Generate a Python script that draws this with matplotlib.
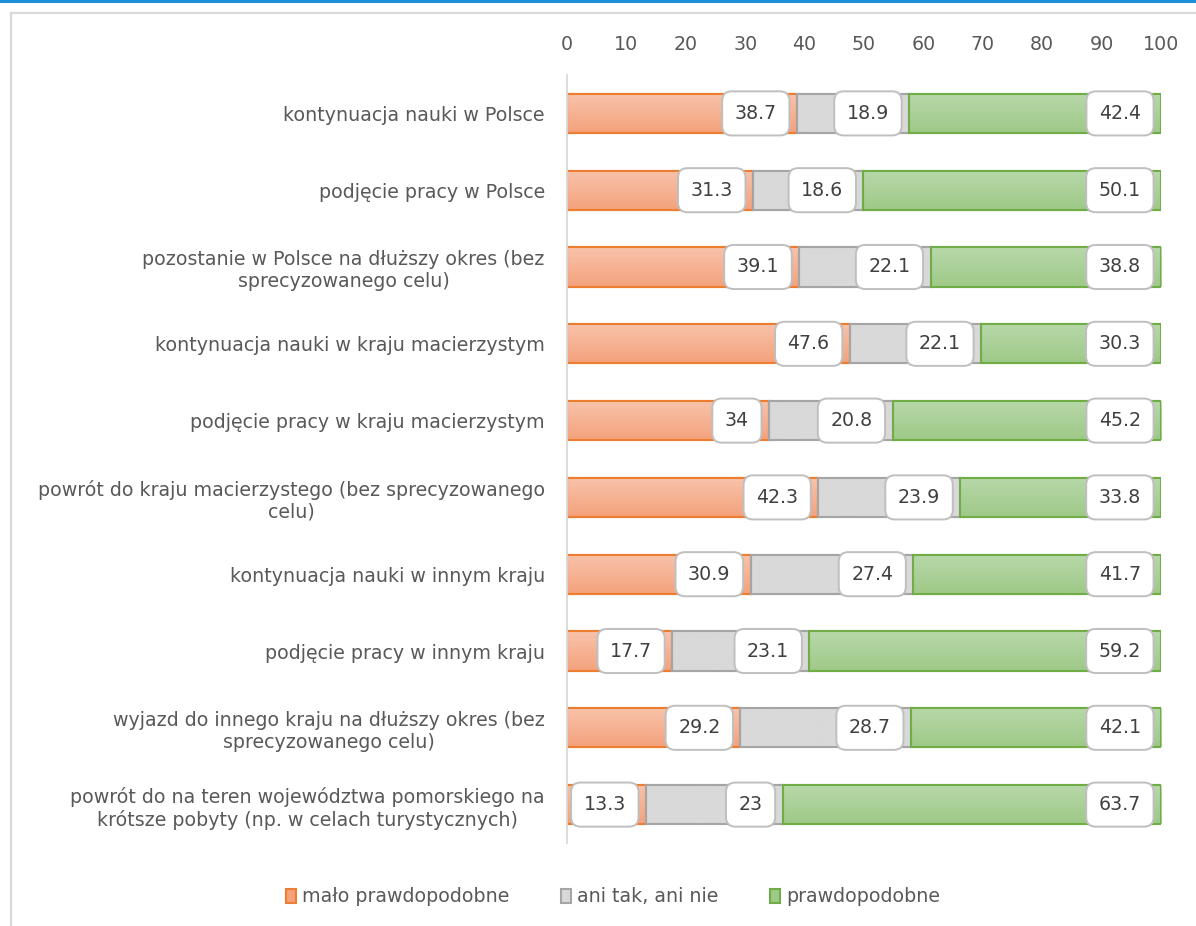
import matplotlib
matplotlib.use("Agg")
import matplotlib.pyplot as plt
import numpy as np
from matplotlib.colors import LinearSegmentedColormap
from matplotlib.lines import Line2D
from matplotlib.patches import Patch

plt.rcParams['font.family'] = ['DejaVu Sans']

categories = [
    "kontynuacja nauki w Polsce",
    "podjęcie pracy w Polsce",
    "pozostanie w Polsce na dłuższy okres (bez\nsprecyzowanego celu)",
    "kontynuacja nauki w kraju macierzystym",
    "podjęcie pracy w kraju macierzystym",
    "powrót do kraju macierzystego (bez sprecyzowanego\ncelu)",
    "kontynuacja nauki w innym kraju",
    "podjęcie pracy w innym kraju",
    "wyjazd do innego kraju na dłuższy okres (bez\nsprecyzowanego celu)",
    "powrót do na teren województwa pomorskiego na\nkrótsze pobyty (np. w celach turystycznych)",
]
malo = [38.7, 31.3, 39.1, 47.6, 34, 42.3, 30.9, 17.7, 29.2, 13.3]
ani = [18.9, 18.6, 22.1, 22.1, 20.8, 23.9, 27.4, 23.1, 28.7, 23]
prawd = [42.4, 50.1, 38.8, 30.3, 45.2, 33.8, 41.7, 59.2, 42.1, 63.7]
series_names = ["mało prawdopodobne", "ani tak, ani nie", "prawdopodobne"]
xticks = list(range(0, 101, 10))

W, H = 1196, 926
fig = plt.figure(figsize=(W / 100, H / 100), dpi=100)
fig.patch.set_facecolor('white')

ax = fig.add_axes([567 / W, 1 - 843 / H, (1161 - 567) / W, (843 - 75) / H])

tcol = '#595959'
fs = 13.7

styles = [
    dict(top='#F8C3AB', bot='#F4A27C', edge='#ED7D31'),
    dict(top='#D9D9D9', bot='#D9D9D9', edge='#A5A5A5'),
    dict(top='#B8D8AA', bot='#9EC987', edge='#70AD47'),
]

y = np.arange(len(categories))
left = np.zeros(len(categories))
for vals, st, name in zip([malo, ani, prawd], styles, series_names):
    bars = ax.barh(y, vals, left=left, height=0.51, color=st['bot'],
                   edgecolor=st['edge'], linewidth=1.5, label=name, zorder=2)
    cmap = LinearSegmentedColormap.from_list('g', [st['top'], st['bot']])
    grad = np.linspace(0, 1, 64).reshape(-1, 1)
    for r in bars:
        x0, y0, w, h = r.get_x(), r.get_y(), r.get_width(), r.get_height()
        im = ax.imshow(grad, extent=(x0, x0 + w, y0 + h, y0), aspect='auto',
                       cmap=cmap, origin='upper', zorder=2.1, interpolation='bilinear')
        im.set_clip_path(r)
        ax.add_patch(plt.Rectangle((x0, y0), w, h, fill=False, edgecolor=st['edge'],
                                   linewidth=1.5, zorder=2.2))
    for r, v in zip(bars, vals):
        xe = r.get_x() + r.get_width()
        ax.annotate(f"{v:g}", xy=(xe, r.get_y() + r.get_height() / 2),
                    xytext=(-20, 0), textcoords='offset pixels',
                    ha='right', va='center', fontsize=fs, color='#404040', zorder=5,
                    bbox=dict(boxstyle='round,pad=0.66,rounding_size=0.5', fc='white',
                              ec='#BFBFBF', lw=1.4))
    left = left + np.array(vals)

ax.set_xlim(0, 100)
ax.set_ylim(len(categories) - 0.5, -0.5)
ax.set_xticks(xticks)
ax.set_xticklabels([str(t) for t in xticks])
ax.xaxis.tick_top()
ax.tick_params(axis='x', length=0, pad=15, labelsize=fs, labelcolor=tcol)
ax.set_yticks(y)
ax.set_yticklabels(categories)
ax.tick_params(axis='y', length=0, pad=16, labelsize=fs, labelcolor=tcol)
for t in ax.get_yticklabels():
    t.set_multialignment('center')
for s in ['top', 'right', 'bottom']:
    ax.spines[s].set_visible(False)
ax.spines['left'].set_color('#D9D9D9')
ax.spines['left'].set_linewidth(1.3)
ax.set_facecolor('none')

handles = [Patch(facecolor=st['bot'], edgecolor=st['edge'], linewidth=1.5) for st in styles]
fig.legend(handles, series_names, loc='center', bbox_to_anchor=(613 / W, 1 - 897 / H),
           ncol=3, frameon=False, fontsize=fs, labelcolor=tcol, handlelength=0.55,
           handleheight=0.8, handletextpad=0.3, columnspacing=2.7)

# outer frame lines
fig.add_artist(Line2D([0, 1], [1 - 1 / H, 1 - 1 / H], transform=fig.transFigure,
                      color='#1C8FD6', linewidth=2.2))
fig.add_artist(Line2D([10.5 / W, 1], [1 - 12.5 / H, 1 - 12.5 / H], transform=fig.transFigure,
                      color='#D9D9D9', linewidth=1.6))
fig.add_artist(Line2D([10.5 / W, 10.5 / W], [0, 1 - 12.5 / H], transform=fig.transFigure,
                      color='#D9D9D9', linewidth=1.6))

fig.savefig('out.png', dpi=100)
